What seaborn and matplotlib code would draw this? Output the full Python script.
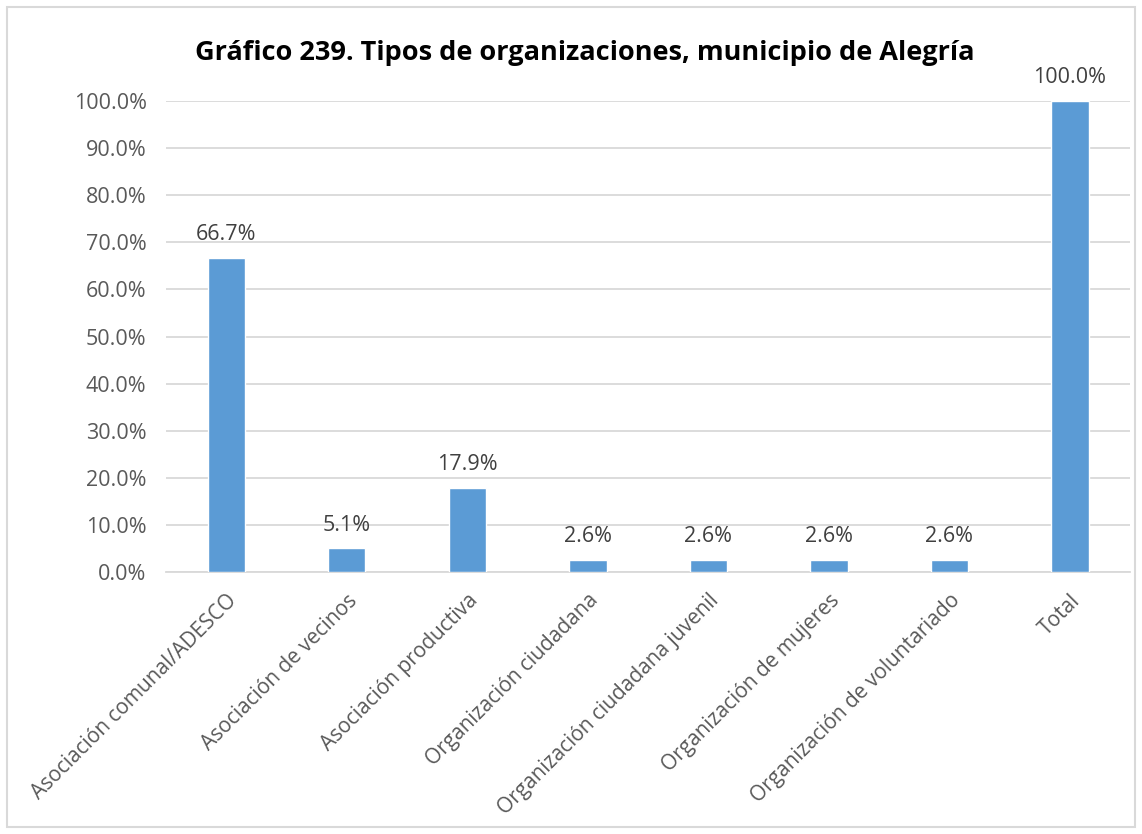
import seaborn as sns
import pandas as pd
import matplotlib.pyplot as plt
from matplotlib.patches import Rectangle
from matplotlib.ticker import FuncFormatter

categorias = [
    "Asociación comunal/ADESCO",
    "Asociación de vecinos",
    "Asociación productiva",
    "Organización ciudadana",
    "Organización ciudadana juvenil",
    "Organización de mujeres",
    "Organización de voluntariado",
    "Total",
]
porcentajes = [66.7, 5.1, 17.9, 2.6, 2.6, 2.6, 2.6, 100.0]
titulo = "Gráfico 239. Tipos de organizaciones, municipio de Alegría"

sns.set_theme(style="white")
plt.rcParams["font.family"] = ["Open Sans", "DejaVu Sans"]

df = pd.DataFrame({"Tipo": categorias, "Porcentaje": [p / 100 for p in porcentajes]})

fig = plt.figure(figsize=(11.42, 8.34), dpi=100)
ax = fig.add_axes([0.1454, 0.3141, 0.8442, 0.5648])

sns.barplot(data=df, x="Tipo", y="Porcentaje", color="#5B9BD5", width=0.31,
            saturation=1, ax=ax, zorder=3)

ax.set_ylim(0, 1.0)
ax.set_xlim(-0.5, len(categorias) - 0.5)
ax.set_yticks([i / 10 for i in range(11)])
ax.yaxis.set_major_formatter(FuncFormatter(lambda v, p: f"{v * 100:.1f}%"))
ax.grid(axis="y", color="#D9D9D9", linewidth=1.3, zorder=0)
for s in ["top", "right", "left"]:
    ax.spines[s].set_visible(False)
ax.spines["bottom"].set_color("#D9D9D9")
ax.spines["bottom"].set_linewidth(1.3)
ax.set_xlabel("")
ax.set_ylabel("")
ax.tick_params(axis="both", length=0, labelsize=15.5, labelcolor="#595959")
ax.tick_params(axis="y", pad=14)
ax.set_xticks(range(len(categorias)))
ax.set_xticklabels(categorias, rotation=45, ha="right", va="top", rotation_mode="anchor")
ax.tick_params(axis="x", pad=13, labelsize=15)

for i, p in enumerate(porcentajes):
    ax.annotate(f"{p:.1f}%", (i, p / 100), xytext=(0, 9), textcoords="offset points",
                ha="center", va="bottom", fontsize=15.5, color="#404040", clip_on=False)

fig.text(0.512, 0.937, titulo, ha="center", va="center", fontsize=19.5,
         fontweight="bold", color="#000000")

fig.patches.append(Rectangle((7 / 1142, 7 / 834), 1128 / 1142, 820 / 834,
                             transform=fig.transFigure, fill=False,
                             edgecolor="#D9D9D9", linewidth=1.5))

fig.savefig("out.png", dpi=100)
